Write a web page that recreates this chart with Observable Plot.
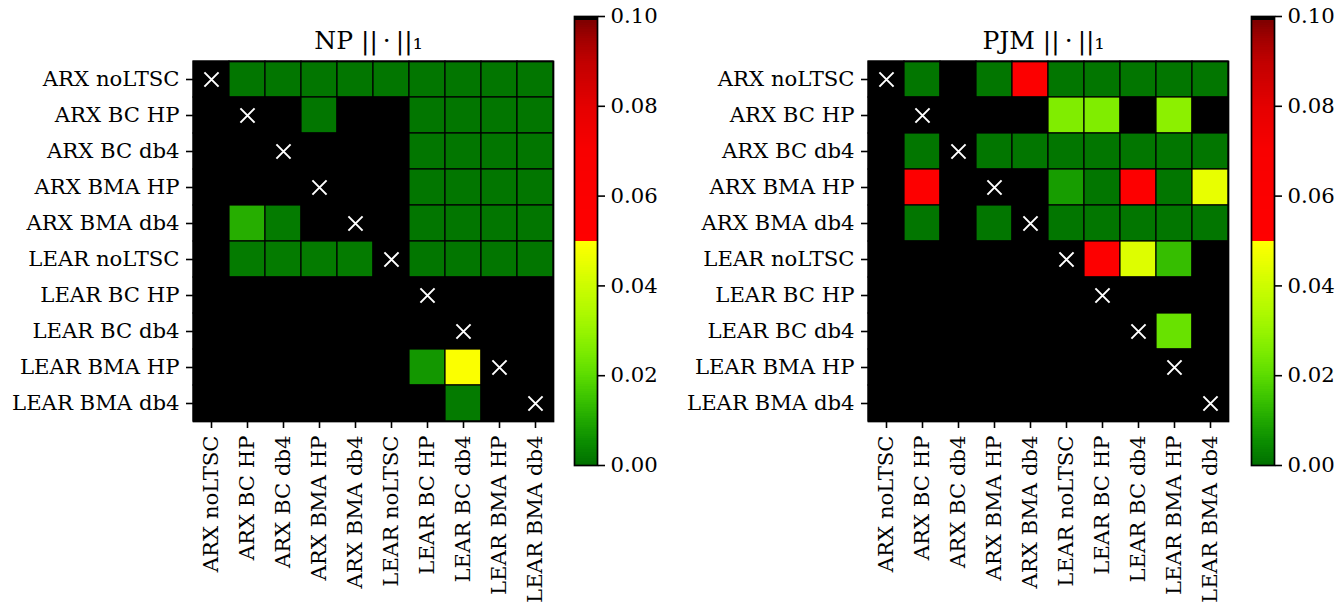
<!DOCTYPE html>
<html>
<head>
<meta charset="utf-8">
<script src="https://cdn.jsdelivr.net/npm/d3@7"></script>
<script src="https://cdn.jsdelivr.net/npm/@observablehq/plot@0.6"></script>
<style>
  html, body { margin: 0; padding: 0; background: white; }
  #root { position: relative; width: 1343px; height: 605px; overflow: hidden; }
  #root > div { position: absolute; top: 0; }
  svg { background: transparent !important; }
</style>
</head>
<body>
<div id="root">
  <div id="np"></div>
  <div id="npbar"></div>
  <div id="pjm"></div>
  <div id="pjmbar"></div>
</div>
<script>
// ---- data ----
const models = ["ARX noLTSC", "ARX BC HP", "ARX BC db4", "ARX BMA HP", "ARX BMA db4",
                "LEAR noLTSC", "LEAR BC HP", "LEAR BC db4", "LEAR BMA HP", "LEAR BMA db4"];
// p-values (rows = first model, columns = second model); 1 = not significant / diagonal
const npValues = [
  [1, 0.001, 0.001, 0.001, 0.001, 0.001, 0.001, 0.001, 0.001, 0.001],
  [1, 1, 1, 0.001, 1, 1, 0.001, 0.001, 0.001, 0.001],
  [1, 1, 1, 1, 1, 1, 0.001, 0.001, 0.001, 0.001],
  [1, 1, 1, 1, 1, 1, 0.001, 0.001, 0.001, 0.001],
  [1, 0.011, 0.002, 1, 1, 1, 0.001, 0.001, 0.001, 0.001],
  [1, 0.002, 0.002, 0.002, 0.002, 1, 0.001, 0.001, 0.001, 0.001],
  [1, 1, 1, 1, 1, 1, 1, 1, 1, 1],
  [1, 1, 1, 1, 1, 1, 1, 1, 1, 1],
  [1, 1, 1, 1, 1, 1, 0.007, 0.049, 1, 1],
  [1, 1, 1, 1, 1, 1, 1, 0.002, 1, 1]
];
const pjmValues = [
  [1, 0.001, 1, 0.001, 0.058, 0.001, 0.001, 0.001, 0.001, 0.001],
  [1, 1, 1, 1, 1, 0.026, 0.026, 1, 0.028, 1],
  [1, 0.001, 1, 0.001, 0.001, 0.001, 0.001, 0.001, 0.001, 0.001],
  [1, 0.056, 1, 1, 1, 0.008, 0.001, 0.056, 0.001, 0.045],
  [1, 0.001, 1, 0.001, 1, 0.001, 0.001, 0.001, 0.001, 0.001],
  [1, 1, 1, 1, 1, 1, 0.057, 0.043, 0.014, 1],
  [1, 1, 1, 1, 1, 1, 1, 1, 1, 1],
  [1, 1, 1, 1, 1, 1, 1, 1, 0.022, 1],
  [1, 1, 1, 1, 1, 1, 1, 1, 1, 1],
  [1, 1, 1, 1, 1, 1, 1, 1, 1, 1]
];
const barTicks = [0, 0.02, 0.04, 0.06, 0.08, 0.10];

// ---- colour map (green -> yellow | red -> dark red -> black) ----
const stopV = [0, 0.005, 0.010, 0.015, 0.020, 0.025, 0.030, 0.035, 0.040, 0.045, 0.0499,
               0.05, 0.07, 0.08, 0.09, 0.095, 0.0989, 0.099, 0.1];
const stopC = ["#007000", "#0a8c00", "#20a800", "#3cc400", "#5cdc00", "#7aeb00", "#98f400",
               "#b4fa00", "#cdfd00", "#e8ff00", "#ffff00",
               "#ff0000", "#f80000", "#e40000", "#c00000", "#a00000", "#800000", "#000000", "#000000"];
const cmap = d3.scaleLinear().domain(stopV).range(stopC).interpolate(d3.interpolateRgb).clamp(true);
const colorScale = {type: "linear", domain: [0, 0.1], clamp: true, interpolate: (t) => cmap(t * 0.1)};

const FONT = "DejaVu Serif";
const FS = 21.2;

function heat(values, title, width, marginLeft) {
  const cells = values.flatMap((row, i) => row.map((v, j) => ({row: models[i], col: models[j], v})));
  return Plot.plot({
    width, height: 605,
    marginLeft, marginRight: width - marginLeft - 360, marginTop: 61, marginBottom: 184,
    style: {fontFamily: FONT, fontSize: FS + "px", color: "black", background: "transparent"},
    x: {domain: models, padding: 0, axis: null},
    y: {domain: models, padding: 0, axis: null},
    color: colorScale,
    marks: [
      Plot.frame({fill: "black"}),
      Plot.cell(cells, {x: "col", y: "row", fill: "v", stroke: "black", strokeWidth: 1.2, inset: 0}),
      Plot.dot(models, {x: d => d, y: d => d, symbol: "times", r: 6.5, stroke: "white", strokeWidth: 2}),
      Plot.frame({stroke: "black", strokeWidth: 1.7}),
      Plot.axisY({tickSize: 7, tickPadding: 7, strokeWidth: 1.6, fontSize: FS, label: null}),
      Plot.axisX({anchor: "bottom", tickSize: 7, tickPadding: 7, strokeWidth: 1.6, fontSize: FS,
                  tickRotate: -90, label: null}),
      Plot.text([title], {frameAnchor: "top", dy: -13, dx: -5, lineAnchor: "bottom", fontSize: 25, fill: "black"})
    ]
  });
}

function bar() {
  const step = 0.0005;
  const bins = d3.range(0, 0.1 - step / 2, step);
  return Plot.plot({
    width: 100, height: 605,
    marginLeft: 14, marginRight: 63, marginTop: 16, marginBottom: 140,
    style: {fontFamily: FONT, fontSize: FS + "px", color: "black", background: "transparent"},
    y: {domain: [0, 0.1], axis: null},
    color: colorScale,
    marks: [
      Plot.rect(bins, {y1: d => d, y2: d => d + step, fill: d => d + step / 2, shapeRendering: "crispEdges"}),
      Plot.frame({stroke: "black", strokeWidth: 1.7}),
      Plot.axisY({anchor: "right", ticks: barTicks, tickFormat: d3.format(".2f"), tickSize: 7, tickPadding: 6,
                  strokeWidth: 1.6, fontSize: FS, label: null})
    ]
  });
}

function place(id, node, left) {
  const el = document.getElementById(id);
  el.style.left = left + "px";
  el.appendChild(node);
}

place("np", heat(npValues, "NP ||\u2009·\u2009||\u2081", 560, 193), 0);
place("npbar", bar(), 560);
place("pjm", heat(pjmValues, "PJM ||\u2009·\u2009||\u2081", 555, 188), 680);
place("pjmbar", bar(), 1237);
</script>
</body>
</html>
